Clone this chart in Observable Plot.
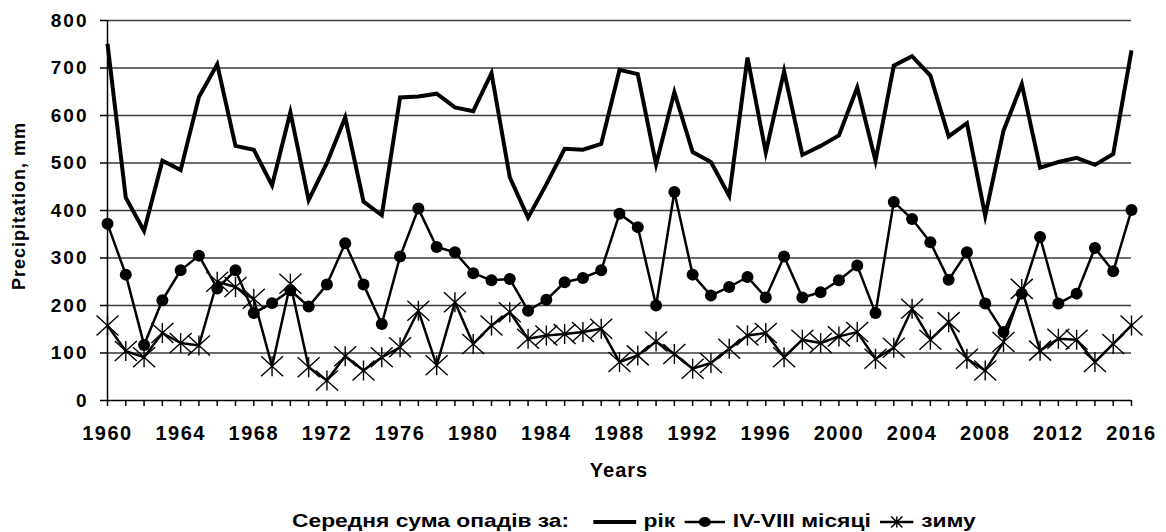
<!DOCTYPE html>
<html>
<head>
<meta charset="utf-8">
<script src="https://cdn.jsdelivr.net/npm/d3@7"></script>
<script src="https://cdn.jsdelivr.net/npm/@observablehq/plot@0.6"></script>
<style>
  html, body { margin: 0; padding: 0; background: #fff; }
  body { width: 1166px; height: 532px; position: relative; overflow: hidden;
         font-family: "Liberation Sans", Arial, sans-serif; font-weight: bold; color: #000; }
  #chart { position: absolute; left: 0; top: 0; }
  #chart svg g[aria-label="x-axis tick label"] text { letter-spacing: 1.5px; }
  #chart svg g[aria-label="y-axis tick label"] text { letter-spacing: 2px; }
  #ylabel { position: absolute; left: 19px; top: 206px; font-size: 18px; letter-spacing: 1px;
            transform: translate(-50%, -50%) rotate(-90deg); white-space: nowrap; line-height: 20px; }
  #xlabel { position: absolute; left: 0; width: 1238px; top: 460px; text-align: center;
            font-size: 20px; letter-spacing: 1px; line-height: 20px; }
  #legend { position: absolute; left: 292px; top: 511px; font-size: 19px; line-height: 19px;
            transform-origin: left top; transform: scaleX(1.2); display: flex; align-items: center; white-space: nowrap; }
  #legend svg { display: block; }
</style>
</head>
<body>
<div id="chart"></div>
<div id="ylabel"></div>
<div id="xlabel"></div>
<div id="legend"></div>
<script>
// ---- data ----
const years = [1960,1961,1962,1963,1964,1965,1966,1967,1968,1969,
               1970,1971,1972,1973,1974,1975,1976,1977,1978,1979,
               1980,1981,1982,1983,1984,1985,1986,1987,1988,1989,
               1990,1991,1992,1993,1994,1995,1996,1997,1998,1999,
               2000,2001,2002,2003,2004,2005,2006,2007,2008,2009,
               2010,2011,2012,2013,2014,2015,2016];
// рік (annual)
const annual = [751,427,357,505,485,639,708,536,528,453,
                607,422,500,596,419,390,638,640,646,617,
                609,689,470,385,455,530,528,540,696,687,
                497,649,523,502,431,722,522,693,517,536,
                558,659,505,705,725,684,556,584,389,568,
                666,490,502,511,496,519,737];
// IV-VIII місяці
const aprAug = [372,265,117,211,274,305,236,274,184,205,
                232,198,244,331,244,161,303,404,323,312,
                268,253,256,189,212,249,258,274,393,365,
                200,439,265,221,239,260,217,303,217,228,
                253,284,184,418,382,333,254,312,204,144,
                225,344,204,225,321,272,401];
// зиму (winter)
const winter = [158,104,91,142,121,116,250,239,214,72,
                246,70,42,93,63,91,112,189,74,207,
                119,158,186,130,137,140,144,151,81,95,
                124,98,67,79,109,137,142,91,128,121,
                135,144,88,111,193,128,165,88,63,123,
                235,105,130,128,81,119,158];
const xTickLabels = [1960,1964,1968,1972,1976,1980,1984,1988,1992,1996,2000,2004,2008,2012,2016];
const yTicks = [0,100,200,300,400,500,600,700,800];
const seriesNames = ["рік", "IV-VIII місяці", "зиму"];
const legendTitle = "Середня сума опадів за:";
const xTitle = "Years";
const yTitle = "Precipitation, mm";

// ---- table ----
const data = years.map((year, i) => ({year, annual: annual[i], aprAug: aprAug[i], winter: winter[i]}));

// asterisk symbol: X with a vertical bar
const asterisk = {
  draw(ctx, size) {
    const r = Math.sqrt(size / Math.PI);
    const w = r * 1.1, h = r;
    ctx.moveTo(-w, -h); ctx.lineTo(w, h);
    ctx.moveTo(-w, h); ctx.lineTo(w, -h);
    ctx.moveTo(0, -h); ctx.lineTo(0, h);
  }
};

const font = "'Liberation Sans', Arial, sans-serif";
const chart = Plot.plot({
  width: 1166,
  height: 450,
  marginTop: 20,
  marginBottom: 50,
  marginLeft: 107,
  marginRight: 35,
  style: {fontFamily: font, fontWeight: "bold", background: "white", color: "black"},
  x: {domain: [1960, 2016]},
  y: {domain: [0, 800]},
  marks: [
    Plot.gridY(yTicks.slice(1), {stroke: "#3a3a3a", strokeOpacity: 1, strokeWidth: 1.5}),
    Plot.axisX({ticks: years, tickSize: 6, tickPadding: 19, fontSize: 20, fontWeight: "bold",
                stroke: "black", strokeWidth: 1.5, label: null,
                tickFormat: d => xTickLabels.includes(d) ? String(d) : ""}),
    Plot.axisY({ticks: yTicks, tickSize: 7, tickPadding: 12, fontSize: 19, fontWeight: "bold",
                stroke: "black", strokeWidth: 1.5, label: null, tickFormat: d => String(d)}),
    Plot.ruleY([0], {stroke: "black", strokeWidth: 1.5}),
    Plot.ruleX([1960], {stroke: "black", strokeWidth: 1.5}),
    Plot.line(data, {x: "year", y: "annual", stroke: "black", strokeWidth: 4,
                     strokeLinejoin: "miter", strokeLinecap: "butt", strokeMiterlimit: 6}),
    Plot.line(data, {x: "year", y: "aprAug", stroke: "black", strokeWidth: 2.5, strokeLinejoin: "miter"}),
    Plot.dot(data, {x: "year", y: "aprAug", r: 6, fill: "black", stroke: "none", symbol: "circle"}),
    Plot.line(data, {x: "year", y: "winter", stroke: "black", strokeWidth: 2.5, strokeLinejoin: "miter"}),
    Plot.dot(data, {x: "year", y: "winter", r: 10, symbol: asterisk, fill: "none", stroke: "black", strokeWidth: 1.4})
  ]
});
document.getElementById("chart").appendChild(chart);
document.getElementById("ylabel").textContent = yTitle;
document.getElementById("xlabel").textContent = xTitle;

// ---- legend ----
const legend = document.getElementById("legend");
const title = document.createElement("span");
title.textContent = legendTitle;
title.style.marginRight = "20px";
legend.appendChild(title);
const swatches = [
  {w: 36, sw: 4, marker: null},
  {w: 34, sw: 2.5, marker: "circle"},
  {w: 28, sw: 2.5, marker: "asterisk"}
];
seriesNames.forEach((name, i) => {
  const s = swatches[i];
  const ns = "http://www.w3.org/2000/svg";
  const svg = document.createElementNS(ns, "svg");
  svg.setAttribute("width", s.w); svg.setAttribute("height", 18);
  const line = document.createElementNS(ns, "line");
  line.setAttribute("x1", 0); line.setAttribute("x2", s.w);
  line.setAttribute("y1", 10); line.setAttribute("y2", 10);
  line.setAttribute("stroke", "black"); line.setAttribute("stroke-width", s.sw);
  svg.appendChild(line);
  if (s.marker === "circle") {
    const c = document.createElementNS(ns, "circle");
    c.setAttribute("cx", s.w / 2); c.setAttribute("cy", 10); c.setAttribute("r", 5);
    svg.appendChild(c);
  } else if (s.marker === "asterisk") {
    const p = document.createElementNS(ns, "path");
    const cx = s.w / 2, cy = 10, r = 5.5;
    p.setAttribute("d", `M${cx - r * 0.85},${cy - r}L${cx + r * 0.85},${cy + r}M${cx - r * 0.85},${cy + r}L${cx + r * 0.85},${cy - r}M${cx},${cy - r}L${cx},${cy + r}`);
    p.setAttribute("stroke", "black"); p.setAttribute("stroke-width", 1.2); p.setAttribute("fill", "none");
    svg.appendChild(p);
  }
  legend.appendChild(svg);
  const t = document.createElement("span");
  t.textContent = name;
  t.style.marginLeft = "6px";
  t.style.marginRight = i < seriesNames.length - 1 ? "8px" : "0";
  legend.appendChild(t);
});
</script>
</body>
</html>
